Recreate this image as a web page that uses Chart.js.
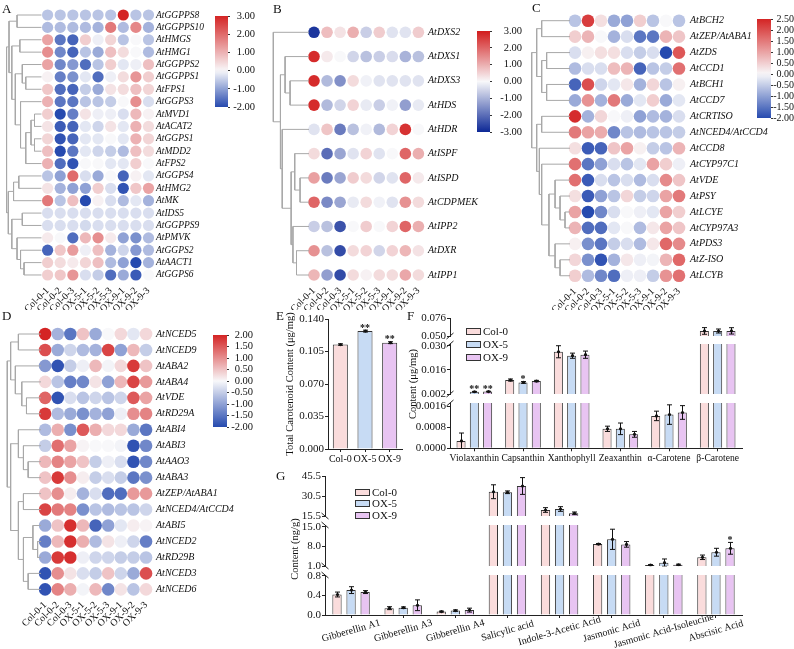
<!DOCTYPE html>
<html><head><meta charset="utf-8">
<script src="https://cdn.jsdelivr.net/npm/chart.js@4.4.1/dist/chart.umd.min.js"></script>
<style>
body{margin:0;background:#fff;width:794px;height:649px;overflow:hidden;position:relative;font-family:'Liberation Serif','Times New Roman',serif;color:#111;}
canvas{position:absolute;}
.t{position:absolute;white-space:nowrap;line-height:1;}
.box{position:absolute;width:13px;height:5px;border:1px solid #333;}
</style></head><body>
<script>
// ================= DATA =================
const heatCols = ['Col-0-1','Col-0-2','Col-0-3','OX-5-1','OX-5-2','OX-5-3','OX-9-1','OX-9-2','OX-9-3'];

const genesA = ['AtGGPPS8','AtGGPPS10','AtHMGS','AtHMG1','AtGGPPS2','AtGGPPS1','AtFPS1','AtGGPS3','AtMVD1','AtACAT2','AtGGPS1','AtMDD2','AtFPS2','AtGGPS4','AtHMG2','AtMK','AtIDS5','AtGGPPS9','AtPMVK','AtGGPS2','AtAACT1','AtGGPS6'];
const valuesA = [
 [-0.6,-0.6,-0.6,-0.6,-0.6,-0.6,3.0,-0.6,-0.6],
 [-0.7,-0.7,-0.7,-0.7,-0.8,1.8,-0.7,1.6,-0.8],
 [1.2,-1.5,-1.7,0.6,-0.1,0.5,-0.6,0.0,-0.6],
 [1.5,-1.3,-1.7,-0.6,-0.9,0.8,0.4,0.0,-0.7],
 [1.2,-1.3,-1.1,-1.6,-0.6,0.6,-0.2,-0.1,0.8],
 [0.1,-1.4,-1.2,-0.2,-1.6,-0.1,0.4,1.4,0.6],
 [0.7,-1.6,-1.7,-0.5,-0.9,0.3,0.4,0.8,0.5],
 [1.0,-1.5,-1.5,-0.6,-0.6,-0.5,0.0,1.5,-0.3],
 [0.6,-2.0,-1.4,0.3,-0.1,-0.1,-0.3,0.9,0.1],
 [0.3,-1.8,-1.7,-0.2,-0.4,0.3,-0.2,1.0,0.4],
 [0.5,-1.9,-1.7,-0.2,-0.2,0.0,-0.2,1.0,0.5],
 [0.8,-2.0,-1.5,-0.2,-0.4,-0.5,-0.7,0.8,0.4],
 [1.0,-1.6,-1.9,0.0,0.0,-0.2,-0.2,0.6,0.0],
 [-0.6,-1.0,2.0,-0.3,-0.9,0.0,-1.7,0.1,-0.2],
 [0.3,-0.8,-1.0,-1.0,0.6,-0.3,-1.9,0.7,1.2],
 [1.8,-0.6,0.8,-2.0,0.1,-0.3,-0.7,-0.2,-0.8],
 [-0.3,-0.3,-0.3,-0.3,-0.3,-0.3,-0.3,-0.3,-0.3],
 [-0.3,-0.3,-0.3,-0.35,-0.3,-0.3,-0.3,-0.3,-0.3],
 [0.2,0.0,-1.6,0.9,1.5,0.2,-1.0,-1.2,-0.7],
 [-1.7,0.7,1.3,-0.1,0.8,-0.8,-0.4,-1.1,-0.7],
 [0.6,0.4,0.2,0.5,0.8,-0.7,-1.0,-2.0,-0.8],
 [0.6,0.7,1.4,-0.3,-0.5,-1.6,-0.9,-1.8,0.0]
];
// dendrogram: [mergeDistance(0..1), left, right]; leaves = row index
const treeA = [1.0,
 [0.93,[0.7,0,1],[0.85,[0.62,2,3],[0.75,[0.55,4,[0.45,5,6]],[0.6,7,[0.45,[0.3,[0.2,8,9],[0.2,10,11]],12]]]]],
 [0.95,[0.8,[0.65,13,14],15],[0.85,[0.55,16,17],[0.7,18,[0.6,19,[0.5,20,21]]]]]];

const genesB = ['AtDXS2','AtDXS1','AtDXS3','AtHDS','AtHDR','AtISPF','AtISPD','AtCDPMEK','AtIPP2','AtDXR','AtIPP1'];
const valuesB = [
 [-2.8,0.8,0.3,1.0,-0.6,0.6,-0.3,-0.3,0.6],
 [2.8,0.2,0.0,-0.5,-0.8,-0.6,-0.4,-1.0,-0.8],
 [2.8,-0.9,-1.5,0.4,-0.1,-0.3,-0.3,-0.3,-0.3],
 [2.8,-0.9,-0.5,0.5,-0.2,-0.6,-0.1,-1.3,-0.2],
 [-0.3,0.7,-1.8,-0.8,-0.1,-0.9,0.5,2.7,0.0],
 [0.4,-2.0,-1.2,-0.3,0.5,-0.3,0.0,2.0,1.0],
 [1.2,-1.8,-1.2,0.6,0.4,-0.5,-0.3,2.0,0.2],
 [2.0,-1.6,-1.2,-0.2,0.4,-0.1,-0.3,1.4,0.4],
 [-0.6,-0.8,-2.4,0.0,0.6,0.0,0.5,2.0,1.0],
 [1.4,-0.8,-2.5,0.4,0.5,-0.5,0.5,0.9,0.3],
 [0.9,-1.3,-2.5,0.4,0.1,0.4,0.4,1.1,0.4]
];
const treeB = [1.0,0,[0.8,[0.67,1,[0.53,2,3]],[0.75,4,[0.5,[0.4,5,[0.25,6,7]],[0.45,8,[0.35,9,10]]]]]];

const genesC = ['AtBCH2','AtZEP/AtABA1','AtZDS','AtCCD1','AtBCH1','AtCCD7','AtCRTISO','AtNCED4/AtCCD4','AtCCD8','AtCYP97C1','AtVDE','AtPSY','AtLCYE','AtCYP97A3','AtPDS3','AtZ-ISO','AtLCYB'];
const valuesC = [
 [-0.6,2.2,0.3,-0.9,-1.0,0.5,-0.6,0.0,-0.6],
 [0.5,0.8,0.0,-0.8,-0.3,-1.5,-1.5,0.8,0.6],
 [-0.3,0.1,0.3,0.3,-0.3,-0.5,-0.3,-2.0,1.9],
 [-0.7,-0.3,-0.3,0.7,0.8,-1.7,-0.6,-0.5,1.6],
 [-1.7,2.0,-0.4,-0.2,0.2,-0.8,0.4,-0.6,0.1],
 [-0.9,1.2,-0.8,1.5,-0.9,-0.2,0.5,-0.9,-0.2],
 [2.4,-0.8,0.4,0.0,-0.1,-1.0,-0.7,-0.8,-0.3],
 [1.5,1.0,0.9,-1.3,-0.6,-0.7,-0.6,-0.6,-0.5],
 [0.3,-1.8,-1.7,0.6,1.0,0.1,-0.5,-0.6,0.8],
 [1.6,-1.5,-1.0,-0.3,-0.6,-0.2,1.0,0.5,-0.1],
 [1.6,-1.8,-0.3,-0.6,-0.3,-0.7,-0.3,1.3,0.6],
 [0.3,-1.8,-1.0,-0.6,0.4,-0.5,-0.4,1.0,1.5],
 [1.0,-2.0,-1.3,-0.3,0.0,-0.1,-0.2,1.0,0.5],
 [0.8,-1.6,-1.6,-0.2,0.0,-0.7,0.2,1.0,0.6],
 [0.1,-1.2,-1.5,-0.5,-0.3,-0.7,0.2,1.7,1.3],
 [0.4,-1.2,-1.9,-0.8,0.2,-0.1,-0.05,0.8,1.7],
 [0.5,-0.7,-1.3,-1.6,-0.1,-0.1,-0.5,1.2,1.6]
];
const treeC = [1.0,[0.87,[0.74,0,1],[0.74,[0.61,2,3],[0.61,4,5]]],[0.87,[0.74,6,7],[0.8,8,[0.74,9,[0.55,[0.39,10,[0.26,11,[0.13,12,13]]],[0.39,14,[0.26,15,16]]]]]]];

const genesD = ['AtNCED5','AtNCED9','AtABA2','AtABA4','AtVDE','AtRD29A','AtABI4','AtABI3','AtAAO3','AtABA3','AtZEP/AtABA1','AtNCED4/AtCCD4','AtABI5','AtNCED2','AtRD29B','AtNCED3','AtNCED6'];
const valuesD = [
 [2.0,-0.8,-1.5,0.5,-0.9,0.0,0.3,-0.2,0.3],
 [1.6,-0.9,-0.4,-0.7,-0.8,1.7,-1.0,0.6,-0.5],
 [-1.1,-1.9,-0.5,-0.1,0.6,-0.05,0.3,1.8,0.5],
 [0.3,-0.6,-1.4,-1.3,0.2,-1.0,0.6,1.7,0.9],
 [1.4,-1.9,-0.3,-0.6,-0.4,-0.6,-0.4,1.5,0.8],
 [1.8,-0.7,-0.9,-1.2,-0.8,-1.0,-0.1,1.0,1.1],
 [-0.7,0.7,-1.2,1.5,0.7,0.3,0.3,-0.9,-1.5],
 [-0.5,1.3,0.8,0.05,0.0,0.0,-0.05,-1.9,-1.3],
 [0.6,1.1,0.8,0.5,-0.5,-0.1,-0.3,-1.9,-1.3],
 [0.5,1.8,1.0,0.1,-0.5,-0.3,-0.5,-1.5,-1.2],
 [0.5,1.0,0.1,-0.8,-0.3,-1.6,-1.6,0.9,0.9],
 [1.7,1.2,1.1,-1.2,-0.6,-0.7,-0.6,-0.6,-0.4],
 [-0.9,0.5,1.9,0.6,-1.7,-1.0,-0.2,0.1,0.05],
 [-1.4,0.6,1.9,0.7,-0.7,0.2,-0.1,-0.4,-1.4],
 [-0.9,1.8,1.9,-0.1,-0.4,-0.4,-0.5,-0.5,-0.6],
 [-1.9,1.0,0.2,-0.3,-0.5,0.5,-0.4,-0.9,1.6],
 [-1.9,1.1,0.7,-0.05,0.6,-1.3,0.2,-0.6,0.3]
];
const treeD = [1.0,[0.9,[0.67,0,1],[0.76,2,[0.57,3,[0.43,4,5]]]],[0.9,[0.67,6,[0.52,7,[0.38,8,9]]],[0.67,[0.52,10,11],[0.52,[0.24,12,[0.1,13,14]],[0.38,15,16]]]]];

const cbTicksA = [-2,-1,0,1,2,3];
const cbTicksB = [-3,-2,-1,0,1,2,3];
const cbTicksC = [-2,-1.5,-1,-0.5,0,0.5,1,1.5,2,2.5];
const cbTicksD = [-2,-1.5,-1,-0.5,0,0.5,1,1.5,2];

const groups = ['Col-0','OX-5','OX-9'];
// E
const eValues = [0.1125,0.127,0.1145];
const eErr = [0.0008,0.0010,0.0010];
const eSig = ['','**','**'];
const eTicks = [0,0.035,0.07,0.105,0.14];
// F
const fCats = ['Violaxanthin','Capsanthin','Xanthophyll','Zeaxanthin','α-Carotene','β-Carotene'];
const fCol0 = [0.00028,0.0101,0.0265,0.00074,0.00123,0.0573];
const fOX5  = [0.0033,0.0087,0.0242,0.00074,0.00128,0.0572];
const fOX9  = [0.0034,0.0095,0.0248,0.00053,0.00136,0.0574];
const fErrCol0 = [0.0003,0.0006,0.0035,0.0001,0.00018,0.0048];
const fErrOX5  = [0.0002,0.0005,0.0015,0.00022,0.00037,0.0029];
const fErrOX9  = [0.0002,0.0004,0.0021,0.00011,0.00026,0.0046];
const fSigCol0 = ['','','','','',''];
const fSigOX5  = ['**','*','','','',''];
const fSigOX9  = ['**','','','','',''];
const fTicksTop = [0.05,0.076];
const fTicksMid = [0.002,0.016,0.03];
const fTicksBot = [0,0.0008,0.0016];
// G
const gCats = ['Gibberellin A1','Gibberellin A3','Gibberellin A4','Salicylic acid','Indole-3-Acetic Acid','Jasmonic Acid','Jasmonic Acid-Isoleucine','Abscisic Acid'];
const gCol0 = [0.42,0.14,0.07,33.7,20.0,8.8,1.35,4.1];
const gOX5  = [0.51,0.15,0.09,33.3,20.75,10.5,2.2,5.9];
const gOX9  = [0.47,0.20,0.10,38.0,17.5,8.7,1.45,7.3];
const gErrCol0 = [0.05,0.03,0.01,5.2,1.75,0.2,0.15,0.8];
const gErrOX5  = [0.07,0.015,0.015,1.0,1.75,3.6,1.3,1.4];
const gErrOX9  = [0.03,0.11,0.04,6.3,1.0,1.0,0.2,2.1];
const gSigCol0 = ['','','','','','','',''];
const gSigOX5  = ['','','','','','','',''];
const gSigOX9  = ['','','','','','','','*'];
const gTicksTop = [15.5,30.5,45.5];
const gTicksMid = [1,8,15];
const gTicksBot = [0,0.4,0.8];

// ================= STYLE / HELPERS =================
const SERIF = "'Liberation Serif','Times New Roman',serif";
Chart.defaults.font.family = SERIF;
Chart.defaults.color = '#111';
const barFill = ['#fadcdc','#c7dbf4','#e8c4f2'];
const palRB = {neg:[38,74,175], zero:[248,248,250], pos:[212,36,36]};
const palB  = {neg:[12,40,150], zero:[248,248,250], pos:[210,28,28]};

function heatColor(v, vmin, vmax, pal){
  let c1, t;
  if (v < 0){ c1 = pal.neg; t = Math.min(1, v / vmin); } else { c1 = pal.pos; t = Math.min(1, v / vmax); }
  const m = k => Math.round(pal.zero[k] + (c1[k]-pal.zero[k])*t);
  return 'rgb('+m(0)+','+m(1)+','+m(2)+')';
}
function mkCanvas(x,y,w,h){
  const c = document.createElement('canvas');
  c.width = w; c.height = h;
  c.style.left = x+'px'; c.style.top = y+'px'; c.style.width = w+'px'; c.style.height = h+'px';
  document.body.appendChild(c); return c;
}
function mkText(txt,x,y,size,extra){
  const d = document.createElement('div'); d.className='t'; d.textContent = txt;
  d.style.left = x+'px'; d.style.top = y+'px'; d.style.fontSize = size+'px';
  if (extra) Object.assign(d.style, extra);
  document.body.appendChild(d); return d;
}
function dendroPoints(tree, leafV, rootV){
  const pts = [];
  function walk(n){
    if (typeof n === 'number') return {x:leafV, y:n};
    const a = walk(n[1]), b = walk(n[2]);
    const x = leafV + n[0]*(rootV-leafV);
    pts.push({x:a.x,y:a.y},{x:x,y:a.y},{x:x,y:b.y},{x:b.x,y:b.y},{x:null,y:null});
    return {x:x, y:(a.y+b.y)/2};
  }
  walk(tree); return pts;
}

const errPlugin = {
  id:'err',
  afterDatasetsDraw(chart, args, o){
    if (!o || !o.errs) return;
    const {ctx, chartArea:a} = chart; const ys = chart.scales.y;
    ctx.save();
    ctx.beginPath(); ctx.rect(a.left, a.top-0.5, a.right-a.left, a.bottom-a.top+1); ctx.clip();
    ctx.strokeStyle = '#111'; ctx.fillStyle = '#111'; ctx.lineWidth = 1;
    chart.data.datasets.forEach((ds,i)=>{
      const meta = chart.getDatasetMeta(i);
      ds.data.forEach((v,j)=>{
        if (v === null) return;
        const e = o.errs[i][j], x = Math.round(meta.data[j].x)+0.5;
        const yt = ys.getPixelForValue(v+e), yb = ys.getPixelForValue(v-e), ym = ys.getPixelForValue(v);
        ctx.beginPath(); ctx.moveTo(x,yt); ctx.lineTo(x,yb);
        ctx.moveTo(x-2.5,yt); ctx.lineTo(x+2.5,yt); ctx.moveTo(x-2.5,yb); ctx.lineTo(x+2.5,yb); ctx.stroke();
        ctx.beginPath(); ctx.arc(x,ym,1.6,0,Math.PI*2); ctx.fill();
      });
    });
    ctx.restore();
    ctx.save(); ctx.fillStyle='#111'; ctx.font = 'bold 10px '+SERIF; ctx.textAlign='center'; ctx.textBaseline='alphabetic';
    chart.data.datasets.forEach((ds,i)=>{
      const meta = chart.getDatasetMeta(i);
      ds.data.forEach((v,j)=>{
        const s = o.sigs && o.sigs[i][j]; if (!s || v === null) return;
        const top = v + o.errs[i][j];
        if (top < ys.min || top > ys.max) return;
        ctx.fillText(s, meta.data[j].x, ys.getPixelForValue(top)+0.5);
      });
    });
    ctx.restore();
  }
};
const brkPlugin = {
  id:'brk',
  afterDraw(chart, args, o){
    if (!o || (!o.top && !o.bottom)) return;
    const {ctx, chartArea:a} = chart; const d = o.dir || 1;
    ctx.save(); ctx.strokeStyle='#222'; ctx.lineWidth=1;
    const f = y => { ctx.beginPath(); ctx.moveTo(a.left-3.5, y+3*d); ctx.lineTo(a.left+3.5, y-3*d); ctx.stroke(); };
    if (o.top) f(a.top); if (o.bottom) f(a.bottom);
    ctx.restore();
  }
};
const slantPlugin = {
  id:'slant',
  afterDraw(chart, args, o){
    if (!o || !o.labels) return;
    const {ctx, chartArea:a} = chart; const xs = chart.scales.x;
    const th = o.angle*Math.PI/180;
    ctx.save(); ctx.font = o.size+'px '+SERIF; ctx.fillStyle='#111'; ctx.textAlign='center'; ctx.textBaseline='middle';
    o.labels.forEach((l,i)=>{
      const px = xs.getPixelForValue(i), py = a.bottom + o.dy;
      ctx.save(); ctx.translate(px,py); ctx.rotate(-th); ctx.fillText(l,0,0); ctx.restore();
    });
    ctx.restore();
  }
};
const cbarPlugin = {
  id:'cbar',
  beforeDatasetsDraw(chart, args, o){
    if (!o || !o.pal) return;
    const {ctx, chartArea:a} = chart; const y = chart.scales.y;
    const g = ctx.createLinearGradient(0, y.getPixelForValue(o.vmax), 0, y.getPixelForValue(o.vmin));
    const N = 24;
    for (let k=0;k<=N;k++){ const v = o.vmax - (o.vmax-o.vmin)*k/N; g.addColorStop(k/N, heatColor(v,o.vmin,o.vmax,o.pal)); }
    ctx.save(); ctx.fillStyle = g; ctx.fillRect(a.left, a.top, a.right-a.left, a.bottom-a.top); ctx.restore();
  }
};
Chart.register(errPlugin, brkPlugin, slantPlugin, cbarPlugin);

// ================= HEATMAPS =================
function drawHeatmap(c){
  const n = c.genes.length;
  const lastX = c.x0 + 8*c.dx, lastY = c.y0 + (n-1)*c.dy;
  const aL = c.root - 1, aR = lastX + 7, aT = c.y0 - 8, aB = lastY + 8;
  const [cL,cT,cW,cH] = c.cv;
  const cv = mkCanvas(cL,cT,cW,cH);
  const xv = p => (p - c.x0)/c.dx, yv = p => (p - c.y0)/c.dy;
  const cells = [];
  c.values.forEach((row,i)=>row.forEach((v,j)=>cells.push({x:j,y:i,v:v})));
  const dendro = dendroPoints(c.tree, xv(c.leafEnd), xv(c.root));
  new Chart(cv, {
    type:'scatter',
    data:{datasets:[
      {type:'line', data:dendro, showLine:true, borderColor:'#a8a8a8', borderWidth:1, pointRadius:0, spanGaps:false, tension:0, clip:false},
      {data:cells, pointRadius:c.r, pointHoverRadius:c.r, pointBorderWidth:0, borderWidth:0, clip:false,
       pointBackgroundColor: ctx => heatColor(ctx.raw.v, c.vmin, c.vmax, c.pal)}
    ]},
    options:{responsive:false, devicePixelRatio:1, animation:false, events:[],
      layout:{padding:{left:aL-cL, top:aT-cT, right:0, bottom:0}},
      plugins:{legend:{display:false}, tooltip:{enabled:false}},
      scales:{
        x:{type:'linear', min:xv(aL), max:xv(aR), grid:{display:false, drawTicks:false}, border:{display:false},
           afterBuildTicks:s=>{ s.ticks = heatCols.map((_,i)=>({value:i})); },
           afterFit:s=>{ s.height = cT+cH-aB; s.paddingLeft=0; s.paddingRight=0; },
           ticks:{autoSkip:false, minRotation:45, maxRotation:45, padding:2, font:{size:9.8}, color:'#111', callback:v=>heatCols[v]}},
        y:{type:'linear', position:'right', reverse:true, min:yv(aT), max:yv(aB), grid:{display:false, drawTicks:false}, border:{display:false},
           afterBuildTicks:s=>{ s.ticks = c.genes.map((_,i)=>({value:i})); },
           afterFit:s=>{ s.width = cL+cW-aR; s.paddingTop=0; s.paddingBottom=0; },
           ticks:{autoSkip:false, padding:c.labelX-aR, font:{size:c.gf, style:'italic'}, color:'#111', callback:v=>c.genes[v]}}
      }
    }
  });
}
function drawColorbar(c){
  const [L,T,R,B] = c.area; const [cL,cT,cW,cH] = c.cv;
  const cv = mkCanvas(cL,cT,cW,cH);
  new Chart(cv, {
    type:'scatter', data:{datasets:[]},
    options:{responsive:false, devicePixelRatio:1, animation:false, events:[],
      layout:{padding:{left:L-cL, top:T-cT, right:0, bottom:cT+cH-B}},
      plugins:{legend:{display:false}, tooltip:{enabled:false}, cbar:{pal:c.pal, vmin:c.vmin, vmax:c.vmax}},
      scales:{
        x:{display:false, min:0, max:1},
        y:{position:'right', min:c.vmin, max:c.vmax, border:{display:false},
           grid:{drawOnChartArea:false, drawTicks:true, tickLength:2, color:'#333'},
           afterBuildTicks:s=>{ s.ticks = c.ticks.map(v=>({value:v})); },
           afterFit:s=>{ s.width = cL+cW-R; s.paddingTop=0; s.paddingBottom=0; },
           ticks:{autoSkip:false, padding:0.5, crossAlign:'far', font:{size:c.fs||10.5}, color:'#111', callback:v=>Number(v).toFixed(2)}}
      }
    }
  });
}

drawHeatmap({cv:[0,0,215,310], genes:genesA, values:valuesA, tree:treeA, x0:44.3, dx:13.0, y0:15, dy:12.38,
  leafEnd:38, root:2, r:5.6, labelX:156, gf:9.5, vmin:-2, vmax:3, pal:palRB});
drawHeatmap({cv:[250,0,265,310], genes:genesB, values:valuesB, tree:treeB, x0:314, dx:13.05, y0:32.3, dy:24.27,
  leafEnd:309, root:273.3, r:5.8, labelX:428, gf:10, vmin:-3, vmax:3, pal:palB});
drawHeatmap({cv:[520,0,274,310], genes:genesC, values:valuesC, tree:treeC, x0:575, dx:13.0, y0:20.7, dy:15.94,
  leafEnd:570, root:531.7, r:6.3, labelX:690, gf:10, vmin:-2, vmax:2.5, pal:palRB});
drawHeatmap({cv:[0,310,250,339], genes:genesD, values:valuesD, tree:treeD, x0:41, dx:13.1, y0:334, dy:15.96,
  leafEnd:36.7, root:1.7, r:6.3, labelX:156, gf:10, vmin:-2, vmax:2, pal:palRB});

drawColorbar({area:[215,16,228,107], cv:[205,4,50,116], ticks:cbTicksA, vmin:-2, vmax:3, pal:palRB});
drawColorbar({area:[477,31,490,132], cv:[467,19,55,126], ticks:cbTicksB, vmin:-3, vmax:3, pal:palB});
drawColorbar({area:[757,19,771,118], cv:[747,7,47,124], ticks:cbTicksC, vmin:-2, vmax:2.5, pal:palRB, fs:10});
drawColorbar({area:[213,335,227,427], cv:[203,323,50,116], ticks:cbTicksD, vmin:-2, vmax:2, pal:palRB});

// ================= BAR CHARTS =================
function barChart(o){
  const [cL,cT,cW,cH] = o.cv; const [aL,aT,aR,aB] = o.area;
  const cv = mkCanvas(cL,cT,cW,cH);
  const padL = o.padL || 2; const showX = !!o.showX;
  new Chart(cv, {
    type:'bar',
    data:{labels:o.cats, datasets:o.series.map((s,i)=>({data:s.map(v => v < o.min ? null : v), backgroundColor:o.colors[i], borderColor:'#333', borderWidth:1,
      borderSkipped:'start', clip:0, categoryPercentage:o.catPct, barPercentage:o.barPct}))},
    options:{responsive:false, devicePixelRatio:1, animation:false, events:[],
      layout:{padding:{left:padL, top:aT-cT, right:cL+cW-aR, bottom: showX?0:(cT+cH-aB)}},
      plugins:{legend:{display:false}, tooltip:{enabled:false},
        err:{errs:o.errs, sigs:o.sigs}, brk:{top:!!o.brkTop, bottom:!!o.brkBot, dir:o.brkDir||1},
        slant: o.slant ? {labels:o.cats, angle:16, size:10, dy:16} : {}},
      scales:{
        x:{display:showX, grid:{display:true, drawOnChartArea:false, drawTicks:true, tickLength:3, offset:false, color:'#222'},
           border:{display:true, color:'#222'},
           afterFit:s=>{ if (showX) s.height = cT+cH-aB; s.paddingLeft=0; s.paddingRight=0; },
           ticks:{display:!o.slant, autoSkip:false, maxRotation:0, minRotation:0, padding:1, font:{size:o.xFont||11}, color:'#111'}},
        y:{min:o.min, max:o.max, grid:{drawOnChartArea:false, drawTicks:true, tickLength:3, color:'#222'},
           border:{display:true, color:'#222'},
           afterBuildTicks:s=>{ s.ticks = o.ticks.map(v=>({value:v})); },
           afterFit:s=>{ s.width = aL-cL-padL; s.paddingTop=0; s.paddingBottom=0; },
           ticks:{autoSkip:false, padding:1, font:{size:11}, color:'#111', callback:v=>Number(v).toFixed(o.dec)},
           title: o.yTitle ? {display:true, text:o.yTitle, font:{size:10.5}, color:'#111', padding:{top:0,bottom:0}} : {display:false}}
      }
    }
  });
}

// E
barChart({cv:[280,305,130,172], area:[328,319,402,449], padL:4.4, cats:groups, series:[eValues], colors:[barFill],
  errs:[eErr], sigs:[eSig], min:0, max:0.14, ticks:eTicks, dec:3, showX:true, catPct:1, barPct:0.61,
  yTitle:'Total Carotenoid Content (μg/mg)', xFont:10});

// F (broken axis: three stacked segments)
const fSeries = [fCol0,fOX5,fOX9], fErrs = [fErrCol0,fErrOX5,fErrOX9], fSigs = [fSigCol0,fSigOX5,fSigOX9];
barChart({cv:[395,305,395,45], area:[450,318,742,336], cats:fCats, series:fSeries, colors:barFill, errs:fErrs, sigs:fSigs,
  min:0.05, max:0.076, ticks:fTicksTop, dec:3, catPct:0.82, barPct:0.68, brkBot:true});
barChart({cv:[395,330,395,75], area:[450,344,742,394], cats:fCats, series:fSeries, colors:barFill, errs:fErrs, sigs:fSigs,
  min:0.002, max:0.031, ticks:fTicksMid, dec:3, catPct:0.82, barPct:0.68, brkTop:true, brkBot:true});
barChart({cv:[395,390,395,80], area:[450,403,742,448.3], cats:fCats, series:fSeries, colors:barFill, errs:fErrs, sigs:fSigs,
  min:0, max:0.00172, ticks:fTicksBot, dec:4, catPct:0.82, barPct:0.68, brkTop:true, showX:true, xFont:9.6});

// G (broken axis)
const gSeries = [gCol0,gOX5,gOX9], gErrs = [gErrCol0,gErrOX5,gErrOX9], gSigs = [gSigCol0,gSigOX5,gSigOX9];
barChart({cv:[290,462,480,66], area:[325,476,742,516], cats:gCats, series:gSeries, colors:barFill, errs:gErrs, sigs:gSigs,
  min:15.5, max:45.5, ticks:gTicksTop, dec:1, catPct:0.81, barPct:0.66, brkBot:true, brkDir:-1});
barChart({cv:[290,512,480,66], area:[325,525,742,566], cats:gCats, series:gSeries, colors:barFill, errs:gErrs, sigs:gSigs,
  min:1.0, max:15.6, ticks:gTicksMid, dec:1, catPct:0.81, barPct:0.66, brkTop:true, brkBot:true, brkDir:-1});
barChart({cv:[290,562,480,87], area:[325,575,742,615], cats:gCats, series:gSeries, colors:barFill, errs:gErrs, sigs:gSigs,
  min:0, max:0.82, ticks:gTicksBot, dec:1, catPct:0.81, barPct:0.66, brkTop:true, brkDir:-1, showX:true, slant:true});

// ================= TEXT: panel letters, titles, legends =================
[['A',2,2],['B',273,2],['C',532,1],['D',2,309],['E',276,309],['F',407,309],['G',276,469]].forEach(p=>mkText(p[0],p[1],p[2],13));
mkText('Content (μg/mg)',413,384,10.5,{transform:'translate(-50%,-50%) rotate(-90deg)'});
mkText('Content (ng/g)',295,549,10.5,{transform:'translate(-50%,-50%) rotate(-90deg)'});
function legend(x, ys){
  groups.forEach((g,i)=>{
    const b = document.createElement('div'); b.className='box';
    b.style.left = x+'px'; b.style.top = (ys[i]-3.5)+'px'; b.style.background = barFill[i];
    document.body.appendChild(b);
    mkText(g, x+17, ys[i]-5.5, 11);
  });
}
legend(466,[331,344.5,357.5]);
legend(355,[492.5,503.5,515]);
</script>
</body></html>
